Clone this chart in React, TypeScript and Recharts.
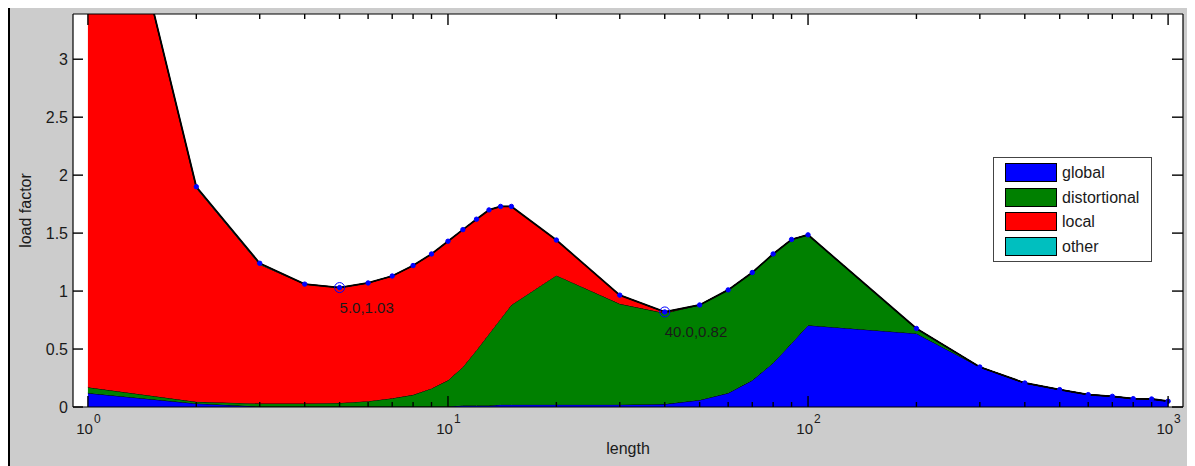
import React from 'react';
import {
  ComposedChart,
  Area,
  Line,
  XAxis,
  YAxis,
  ReferenceDot,
  Legend,
} from 'recharts';

// ---------- data ----------
const LENGTHS = [1, 2, 3, 4, 5, 6, 7, 8, 9, 10, 11, 12, 13, 14, 15, 20, 30, 40, 50, 60, 70, 80, 90, 100, 200, 300, 400, 500, 600, 700, 800, 900, 1000];
const GLOBAL = [0.12, 0.03, 0.004, 0.004, 0.004, 0.004, 0.004, 0.004, 0.004, 0.004, 0.012, 0.012, 0.012, 0.02, 0.02, 0.02, 0.02, 0.025, 0.06, 0.12, 0.23, 0.38, 0.55, 0.705, 0.634, 0.345, 0.207, 0.15, 0.107, 0.092, 0.072, 0.069, 0.05];
const DISTORTIONAL = [0.05, 0.015, 0.026, 0.026, 0.031, 0.046, 0.071, 0.101, 0.156, 0.226, 0.333, 0.478, 0.618, 0.74, 0.86, 1.115, 0.87, 0.785, 0.82, 0.89, 0.93, 0.94, 0.895, 0.78, 0.043, 0, 0, 0, 0, 0, 0, 0, 0];
const LOCAL = [5.56, 1.845, 1.2, 1.03, 0.995, 1.02, 1.055, 1.115, 1.16, 1.2, 1.185, 1.13, 1.07, 0.97, 0.85, 0.305, 0.075, 0.01, 0, 0, 0, 0, 0, 0, 0, 0, 0, 0, 0, 0, 0, 0, 0];
const OTHER = [0, 0.01, 0.01, 0, 0, 0, 0, 0, 0, 0, 0, 0, 0, 0, 0, 0, 0, 0, 0, 0, 0, 0, 0, 0, 0, 0, 0, 0, 0, 0, 0, 0, 0];

const SERIES = [
  { key: 'global', name: 'global', color: '#0000ff', values: GLOBAL },
  { key: 'distortional', name: 'distortional', color: '#008000', values: DISTORTIONAL },
  { key: 'local', name: 'local', color: '#ff0000', values: LOCAL },
  { key: 'other', name: 'other', color: '#00bfbf', values: OTHER },
];

const Y_TICKS = [0, 0.5, 1, 1.5, 2, 2.5, 3];
const X_MAJOR = [1, 10, 100, 1000];
const X_ALL_TICKS = [1, 2, 3, 4, 5, 6, 7, 8, 9, 10, 20, 30, 40, 50, 60, 70, 80, 90, 100, 200, 300, 400, 500, 600, 700, 800, 900, 1000];
const X_DOMAIN = [0.909, 1100];
const Y_DOMAIN = [0, 3.39];

const ANNOTATIONS = [
  { x: 5, y: 1.03, label: '5.0,1.03' },
  { x: 40, y: 0.82, label: '40.0,0.82' },
];

const data = LENGTHS.map((x, i) => {
  const row: any = { x };
  let total = 0;
  SERIES.forEach((s) => {
    row[s.key] = s.values[i];
    total += s.values[i];
  });
  row.total = total;
  return row;
});

// ---------- layout ----------
const W = 1195;
const H = 466;
const MARGIN = { top: 13, right: 11, bottom: 19, left: 13 };
const Y_AXIS_W = 60;
const X_AXIS_H = 40;
const TOP_AXIS_H = 1;
const RIGHT_AXIS_W = 1;

// ---------- styling helpers ----------
const FONT = '"Liberation Sans", Arial, Helvetica, sans-serif';
const TEXT_COLOR = '#1a1a1a';
const TICK_COLOR = '#000000';
const TICK_W = 1.4;

const LeftYTick = (props: any) => {
  const { x, y, payload } = props;
  return (
    <g>
      <path d={`M${x},${y}h10`} stroke={TICK_COLOR} strokeWidth={TICK_W} fill="none" />
      <text x={x - 5} y={y + 5.5} textAnchor="end" fontSize={16} fill={TEXT_COLOR} fontFamily={FONT}>
        {String(payload.value)}
      </text>
    </g>
  );
};

const RightYTick = (props: any) => {
  const { x, y } = props;
  return <path d={`M${x},${y}h-11`} stroke={TICK_COLOR} strokeWidth={TICK_W} fill="none" />;
};

const BottomXTick = (props: any) => {
  const { x, y, payload } = props;
  const v = payload.value;
  const major = X_MAJOR.includes(v);
  const exp = Math.round(Math.log10(v));
  return (
    <g>
      <path d={`M${x},${y}v${major ? -11 : -5}`} stroke={TICK_COLOR} strokeWidth={TICK_W} fill="none" />
      {major && (
        <g>
          <text x={x + 5} y={y + 27} textAnchor="end" fontSize={15} fill={TEXT_COLOR} fontFamily={FONT}>
            10
          </text>
          <text x={x + 6} y={y + 16} textAnchor="start" fontSize={12} fill={TEXT_COLOR} fontFamily={FONT}>
            {String(exp)}
          </text>
        </g>
      )}
    </g>
  );
};

const TopXTick = (props: any) => {
  const { x, y, payload } = props;
  const major = X_MAJOR.includes(payload.value);
  return <path d={`M${x},${y}v${major ? 11 : 5}`} stroke={TICK_COLOR} strokeWidth={TICK_W} fill="none" />;
};

const AnnotationShape = (label: string) => (props: any) => {
  const { cx, cy } = props;
  return (
    <g>
      <circle cx={cx} cy={cy} r={5} fill="none" stroke="#0000ff" strokeWidth={1} />
      <circle cx={cx} cy={cy} r={2} fill="#0000ff" />
      <text x={cx} y={cy + 25} fontSize={15} fill={TEXT_COLOR} fontFamily={FONT} textAnchor="start">
        {label}
      </text>
    </g>
  );
};

const LegendBox = () => (
  <div
    style={{
      width: 157,
      height: 103,
      background: '#ffffff',
      border: '1px solid #444',
      position: 'relative',
      fontFamily: FONT,
    }}
  >
    {SERIES.map((s, i) => (
      <div
        key={s.key}
        style={{
          position: 'absolute',
          left: 11,
          top: 5 + i * 24.7,
          height: 19,
          display: 'flex',
          alignItems: 'center',
        }}
      >
        <div style={{ width: 50, height: 17, background: s.color, border: '1px solid #000' }} />
        <span style={{ marginLeft: 5, fontSize: 16, color: TEXT_COLOR, lineHeight: '19px' }}>{s.name}</span>
      </div>
    ))}
  </div>
);

export default function App() {
  const plotLeft = MARGIN.left + Y_AXIS_W;
  const plotTop = MARGIN.top + TOP_AXIS_H;
  const plotW = W - plotLeft - MARGIN.right - RIGHT_AXIS_W;
  const plotH = H - plotTop - MARGIN.bottom - X_AXIS_H;
  return (
    <div style={{ position: 'relative', width: W, height: H, margin: '-8px 0 0 -8px', overflow: 'hidden', background: '#fff' }}>
      <div
        style={{
          position: 'absolute',
          left: 8,
          top: 5,
          width: W - 8,
          height: H - 5,
          background: '#cccccc',
          borderLeft: '2px solid #000',
          borderTop: '2px solid #000',
          boxSizing: 'border-box',
        }}
      />
      <div
        style={{
          position: 'absolute',
          left: plotLeft,
          top: plotTop,
          width: plotW,
          height: plotH,
          background: '#ffffff',
        }}
      />
      <div style={{ position: 'absolute', left: 0, top: 0 }}>
        <ComposedChart width={W} height={H} data={data} margin={MARGIN} style={{ fontFamily: FONT }}>
          <XAxis
            dataKey="x"
            type="number"
            scale="log"
            domain={X_DOMAIN}
            allowDataOverflow
            ticks={X_ALL_TICKS}
            interval={0}
            height={X_AXIS_H}
            tickSize={0}
            tickMargin={0}
            tickLine={false}
            axisLine={{ stroke: '#000', strokeWidth: 1.2 }}
            tick={<BottomXTick />}
            label={{
              content: (p: any) => {
                const vb = p.viewBox;
                return (
                  <text x={vb.x + vb.width / 2} y={vb.y + 47} textAnchor="middle" fontSize={16} fill={TEXT_COLOR} fontFamily={FONT}>
                    length
                  </text>
                );
              },
            }}
          />
          <XAxis
            xAxisId="top"
            orientation="top"
            dataKey="x"
            type="number"
            scale="log"
            domain={X_DOMAIN}
            allowDataOverflow
            ticks={X_ALL_TICKS}
            interval={0}
            height={TOP_AXIS_H}
            tickSize={0}
            tickMargin={0}
            tickLine={false}
            axisLine={{ stroke: '#000', strokeWidth: 1.2 }}
            tick={<TopXTick />}
          />
          <YAxis
            type="number"
            domain={Y_DOMAIN}
            allowDataOverflow
            ticks={Y_TICKS}
            interval={0}
            width={Y_AXIS_W}
            tickSize={0}
            tickMargin={0}
            tickLine={false}
            axisLine={{ stroke: '#000', strokeWidth: 1.2 }}
            tick={<LeftYTick />}
            label={{
              content: (p: any) => {
                const vb = p.viewBox;
                const cx = vb.x + 12;
                const cy = vb.y + vb.height / 2;
                return (
                  <text
                    x={cx}
                    y={cy}
                    transform={`rotate(-90 ${cx} ${cy})`}
                    textAnchor="middle"
                    dominantBaseline="central"
                    fontSize={16}
                    fill={TEXT_COLOR}
                    fontFamily={FONT}
                  >
                    load factor
                  </text>
                );
              },
            }}
          />
          <YAxis
            yAxisId="right"
            orientation="right"
            type="number"
            domain={Y_DOMAIN}
            allowDataOverflow
            ticks={Y_TICKS}
            interval={0}
            width={RIGHT_AXIS_W}
            tickSize={0}
            tickMargin={0}
            tickLine={false}
            axisLine={{ stroke: '#000', strokeWidth: 1.2 }}
            tick={<RightYTick />}
          />
          {SERIES.map((s) => (
            <Area
              key={s.key}
              type="linear"
              dataKey={s.key}
              name={s.name}
              stackId="modes"
              fill={s.color}
              fillOpacity={1}
              stroke="#000"
              strokeWidth={1}
              isAnimationActive={false}
              dot={false}
              activeDot={false}
            />
          ))}
          <Line
            type="linear"
            dataKey="total"
            stroke="#000"
            strokeWidth={1.8}
            dot={{ r: 2.2, fill: '#0000ff', stroke: '#0000ff', strokeWidth: 1 }}
            activeDot={false}
            legendType="none"
            isAnimationActive={false}
          />
          {ANNOTATIONS.map((a) => (
            <ReferenceDot key={a.label} x={a.x} y={a.y} r={5} shape={AnnotationShape(a.label)} />
          ))}
          <Legend
            layout="vertical"
            align="center"
            verticalAlign="middle"
            content={<LegendBox />}
            wrapperStyle={{ left: 993, top: 157, width: 'auto', height: 'auto' }}
          />
        </ComposedChart>
      </div>
    </div>
  );
}
